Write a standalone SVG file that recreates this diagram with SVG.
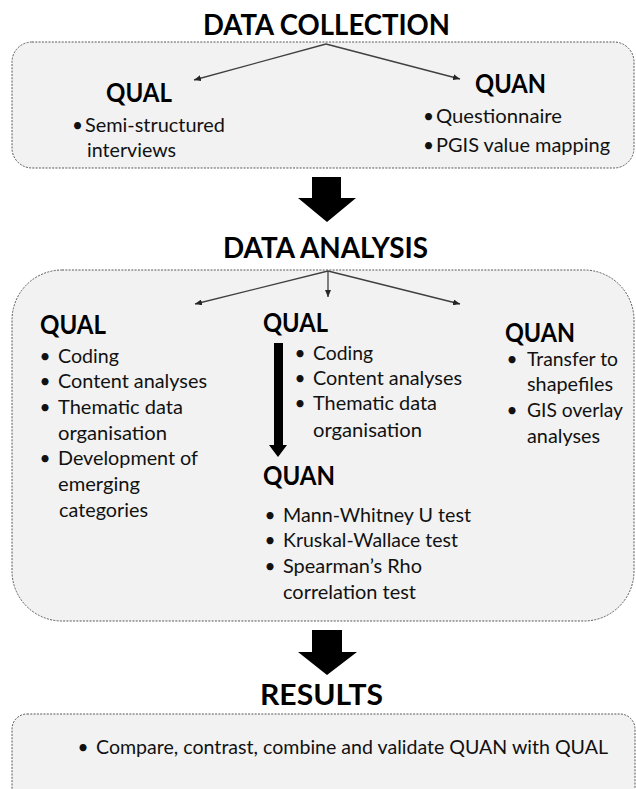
<svg xmlns="http://www.w3.org/2000/svg" width="636" height="789" viewBox="0 0 636 789">
<style>
.bg{fill:#ffffff}
.box{fill:#f2f2f2;stroke:#595959;stroke-width:1;stroke-dasharray:2 1.3}
.h1{font-family:Lato,"Open Sans",sans-serif;font-weight:bold;font-size:28px;fill:#000}
.h2{font-family:Lato,"Open Sans",sans-serif;font-weight:bold;font-size:27px;fill:#000}
.t{font-family:Lato,"Open Sans",sans-serif;font-size:19px;fill:#111}
.b{font-family:Lato,"Open Sans",sans-serif;font-size:19px;fill:#111;text-anchor:middle}
.thin{fill:none;stroke:#404040;stroke-width:1.3}
.big{fill:#000;stroke:none}
</style>
<defs>
<marker id="ah" markerUnits="userSpaceOnUse" markerWidth="8" markerHeight="6" refX="7" refY="3" orient="auto">
<path d="M0,0 L7,3 L0,6 z" fill="#262626"/>
</marker>
</defs>
<rect class="bg" x="0" y="0" width="636" height="789"/>

<g id="data-collection">
<text class="h1" x="203" y="35" textLength="247" lengthAdjust="spacingAndGlyphs">DATA COLLECTION</text>
<rect class="box" x="12" y="42" width="622" height="126" rx="20" ry="20"/>
</g>
<g id="collection-qual">
<text class="h2" x="106" y="102" textLength="66" lengthAdjust="spacingAndGlyphs">QUAL</text>
<text class="b" x="77.5" y="132">•</text>
<text class="t" x="85" y="132" textLength="140" lengthAdjust="spacingAndGlyphs">Semi-structured</text>
<text class="t" x="87" y="157" textLength="89" lengthAdjust="spacingAndGlyphs">interviews</text>
</g>
<g id="collection-quan">
<text class="h2" x="475" y="93" textLength="71" lengthAdjust="spacingAndGlyphs">QUAN</text>
<text class="b" x="428.5" y="123">•</text>
<text class="t" x="436" y="123" textLength="126" lengthAdjust="spacingAndGlyphs">Questionnaire</text>
<text class="b" x="428.5" y="152">•</text>
<text class="t" x="436" y="152" textLength="174" lengthAdjust="spacingAndGlyphs">PGIS value mapping</text>
</g>

<g id="data-analysis">
<text class="h1" x="223" y="258" textLength="205" lengthAdjust="spacingAndGlyphs">DATA ANALYSIS</text>
<rect class="box" x="12" y="270" width="622" height="351" rx="50" ry="50"/>
</g>
<g id="analysis-qual-left">
<text class="h2" x="40" y="334" textLength="66" lengthAdjust="spacingAndGlyphs">QUAL</text>
<text class="b" x="45" y="363">•</text>
<text class="t" x="58" y="363" textLength="61" lengthAdjust="spacingAndGlyphs">Coding</text>
<text class="b" x="45" y="388">•</text>
<text class="t" x="58" y="388" textLength="149" lengthAdjust="spacingAndGlyphs">Content analyses</text>
<text class="b" x="45" y="414">•</text>
<text class="t" x="58" y="414" textLength="125" lengthAdjust="spacingAndGlyphs">Thematic data</text>
<text class="t" x="58" y="440" textLength="109" lengthAdjust="spacingAndGlyphs">organisation</text>
<text class="b" x="45" y="465">•</text>
<text class="t" x="58" y="465" textLength="140" lengthAdjust="spacingAndGlyphs">Development of</text>
<text class="t" x="58" y="491" textLength="82" lengthAdjust="spacingAndGlyphs">emerging</text>
<text class="t" x="59" y="517" textLength="89" lengthAdjust="spacingAndGlyphs">categories</text>
</g>
<g id="analysis-qual-mid">
<text class="h2" x="263" y="332" textLength="65" lengthAdjust="spacingAndGlyphs">QUAL</text>
<text class="b" x="300" y="360">•</text>
<text class="t" x="313" y="360" textLength="60" lengthAdjust="spacingAndGlyphs">Coding</text>
<text class="b" x="300" y="385">•</text>
<text class="t" x="313" y="385" textLength="149" lengthAdjust="spacingAndGlyphs">Content analyses</text>
<text class="b" x="300" y="410">•</text>
<text class="t" x="313" y="410" textLength="124" lengthAdjust="spacingAndGlyphs">Thematic data</text>
<text class="t" x="313" y="437" textLength="109" lengthAdjust="spacingAndGlyphs">organisation</text>
</g>
<g id="analysis-quan-right">
<text class="h2" x="505" y="342" textLength="70" lengthAdjust="spacingAndGlyphs">QUAN</text>
<text class="b" x="512" y="366">•</text>
<text class="t" x="527" y="366" textLength="91" lengthAdjust="spacingAndGlyphs">Transfer to</text>
<text class="t" x="527" y="391" textLength="86" lengthAdjust="spacingAndGlyphs">shapefiles</text>
<text class="b" x="512" y="417">•</text>
<text class="t" x="527" y="417" textLength="96" lengthAdjust="spacingAndGlyphs">GIS overlay</text>
<text class="t" x="527" y="443" textLength="73" lengthAdjust="spacingAndGlyphs">analyses</text>
</g>
<g id="analysis-quan-mid">
<text class="h2" x="263" y="485" textLength="72" lengthAdjust="spacingAndGlyphs">QUAN</text>
<text class="b" x="270" y="522">•</text>
<text class="t" x="283" y="522" textLength="188" lengthAdjust="spacingAndGlyphs">Mann-Whitney U test</text>
<text class="b" x="270" y="547">•</text>
<text class="t" x="283" y="547" textLength="175" lengthAdjust="spacingAndGlyphs">Kruskal-Wallace test</text>
<text class="b" x="270" y="573">•</text>
<text class="t" x="283" y="573" textLength="139" lengthAdjust="spacingAndGlyphs">Spearman’s Rho</text>
<text class="t" x="283" y="599" textLength="133" lengthAdjust="spacingAndGlyphs">correlation test</text>
</g>

<g id="results">
<text class="h1" x="260" y="705" textLength="123" lengthAdjust="spacingAndGlyphs">RESULTS</text>
<rect class="box" x="12" y="714" width="623" height="100" rx="15" ry="15"/>
<text class="b" x="83" y="754">•</text>
<text class="t" x="96" y="754" textLength="512" lengthAdjust="spacingAndGlyphs">Compare, contrast, combine and validate QUAN with QUAL</text>
</g>

<g id="connectors">
<line class="thin" x1="326" y1="44" x2="194" y2="80" marker-end="url(#ah)"/>
<line class="thin" x1="326" y1="44" x2="460" y2="79" marker-end="url(#ah)"/>
<line class="thin" x1="328" y1="271" x2="195" y2="304" marker-end="url(#ah)"/>
<line class="thin" x1="328" y1="271" x2="328" y2="297" marker-end="url(#ah)"/>
<line class="thin" x1="328" y1="271" x2="460" y2="304" marker-end="url(#ah)"/>
<polygon class="big" points="312,177 341,177 341,198 356,198 327,222 298,198 312,198"/>
<polygon class="big" points="312,630 342,630 342,652 357,652 327,675 298,652 312,652"/>
<polygon class="big" points="274,343 283,343 283,445 287,445 278,457 269,445 274,445"/>
</g>
</svg>
